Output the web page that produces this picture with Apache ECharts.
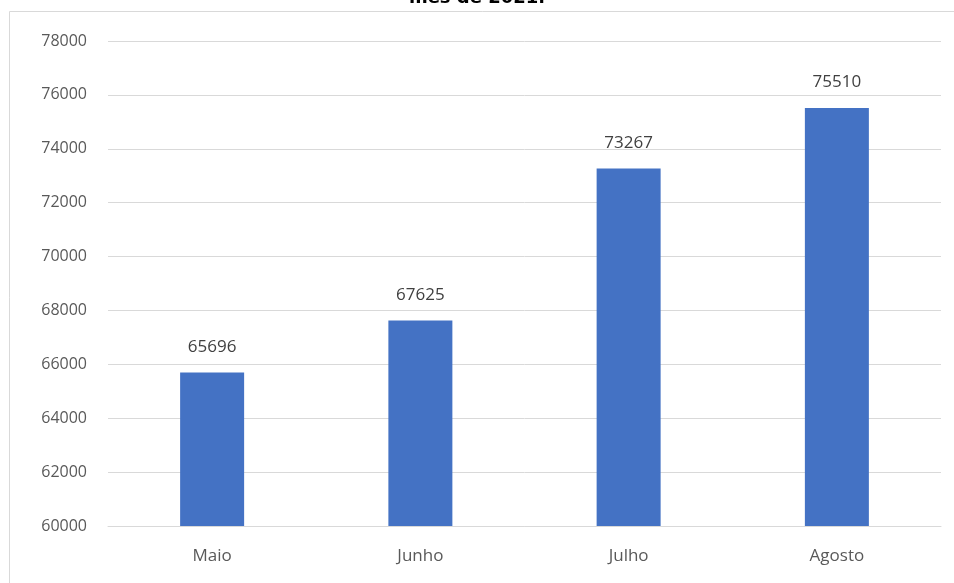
<!DOCTYPE html>
<html>
<head>
<meta charset="utf-8">
<script src="https://cdn.jsdelivr.net/npm/echarts@6/dist/echarts.min.js"></script>
<style>
  html, body { margin: 0; padding: 0; background: #fff; overflow: hidden; }
  #chart { width: 954px; height: 583px; }
</style>
</head>
<body>
<div id="chart"></div>
<script>
const categories = ['Maio', 'Junho', 'Julho', 'Agosto']
const values = [65696, 67625, 73267, 75510]
const titleText = 'mês de 2021.'

const myChart = echarts.init(document.getElementById('chart'))

const option = {
  animation: false,
  title: {
    text: titleText,
    left: 'center',
    top: -16,
    textStyle: { fontFamily: 'DejaVu Sans', fontWeight: 'bold', fontSize: 18, color: '#000' }
  },
  // moldura do gráfico (como no Excel)
  graphic: [{
    type: 'rect',
    shape: { x: 9.5, y: 11.5, width: 1000, height: 640 },
    style: { fill: 'none', stroke: '#d9d9d9', lineWidth: 1 },
    z: -1
  }],
  grid: { left: 108, right: 13, top: 41, bottom: 57, containLabel: false },
  xAxis: {
    type: 'category',
    data: categories,
    axisTick: { show: false },
    axisLine: { lineStyle: { color: '#d9d9d9' } },
    axisLabel: { color: '#595959', fontSize: 17, fontFamily: 'Open Sans', margin: 22 }
  },
  yAxis: {
    type: 'value',
    min: 60000,
    max: 78000,
    interval: 2000,
    axisLine: { show: false },
    axisTick: { show: false },
    splitLine: { lineStyle: { color: '#d9d9d9' } },
    axisLabel: {
      color: '#595959', fontSize: 16, fontFamily: 'Open Sans', margin: 21,
      formatter: v => String(v)
    }
  },
  series: [{
    type: 'bar',
    data: values,
    barWidth: 64,
    itemStyle: { color: '#4472c4' },
    label: {
      show: true,
      position: 'top',
      distance: 17,
      color: '#404040',
      fontSize: 17,
      fontFamily: 'Open Sans'
    }
  }]
}

myChart.setOption(option)
</script>
</body>
</html>
